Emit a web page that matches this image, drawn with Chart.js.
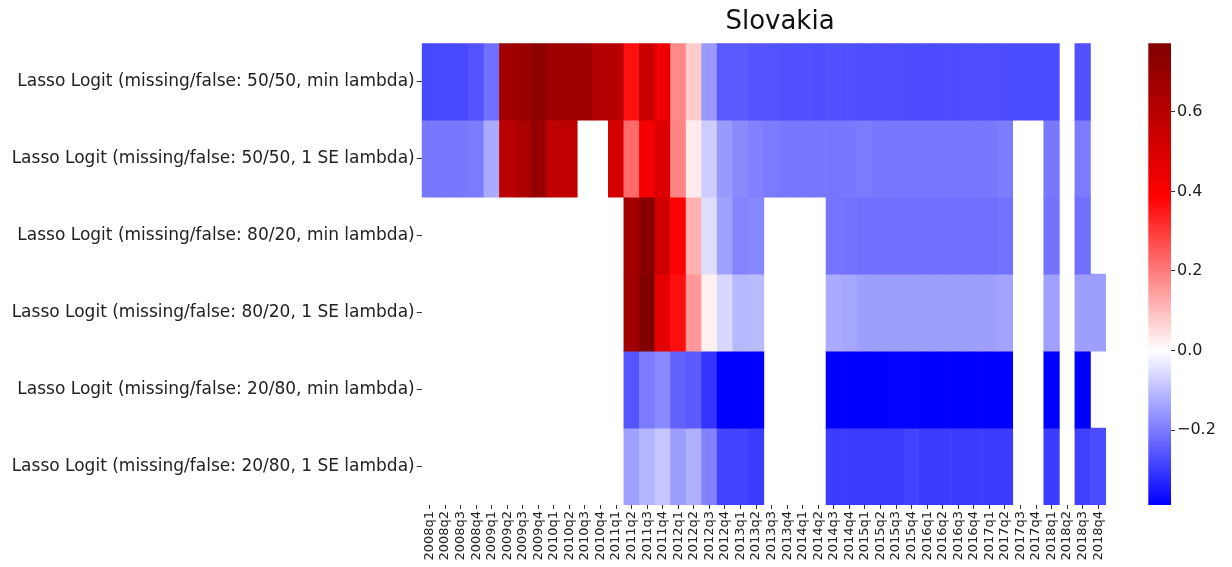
<!DOCTYPE html>
<html>
<head>
<meta charset="utf-8">
<title>Slovakia</title>
<script src="https://cdn.jsdelivr.net/npm/chart.js@4.4.1/dist/chart.umd.min.js"></script>
<style>
  body { margin: 0; background: #fff; }
  #wrap { position: relative; width: 1232px; height: 567px; }
  #wrap canvas { position: absolute; left: 0; top: 0; }
  #title {
    position: absolute; left: 780px; top: 5px; transform: translateX(-50%);
    font: 26px 'DejaVu Sans', sans-serif; color: #111; white-space: nowrap;
  }
</style>
</head>
<body>
<div id="wrap">
  <canvas id="heat" width="1232" height="567"></canvas>
  <canvas id="cbar" width="1232" height="567"></canvas>
  <div id="title">Slovakia</div>
</div>
<script>
// Quarter labels along the x axis
const quarters = [
  '2008q1', '2008q2', '2008q3', '2008q4', '2009q1', '2009q2', '2009q3', '2009q4',
  '2010q1', '2010q2', '2010q3', '2010q4', '2011q1', '2011q2', '2011q3', '2011q4',
  '2012q1', '2012q2', '2012q3', '2012q4', '2013q1', '2013q2', '2013q3', '2013q4',
  '2014q1', '2014q2', '2014q3', '2014q4', '2015q1', '2015q2', '2015q3', '2015q4',
  '2016q1', '2016q2', '2016q3', '2016q4', '2017q1', '2017q2', '2017q3', '2017q4',
  '2018q1', '2018q2', '2018q3', '2018q4'
];

const models = [
  'Lasso Logit (missing/false: 50/50, min lambda)',
  'Lasso Logit (missing/false: 50/50, 1 SE lambda)',
  'Lasso Logit (missing/false: 80/20, min lambda)',
  'Lasso Logit (missing/false: 80/20, 1 SE lambda)',
  'Lasso Logit (missing/false: 20/80, min lambda)',
  'Lasso Logit (missing/false: 20/80, 1 SE lambda)'
];

// One value per quarter, null where the model has no estimate
const lasso5050Min = [
  -0.277, -0.277, -0.275, -0.262, -0.216, 0.674, 0.692, 0.734,
  0.680, 0.680, 0.678, 0.613, 0.608, 0.362, 0.552, 0.437,
  0.180, 0.077, -0.154, -0.250, -0.250, -0.257, -0.262, -0.265,
  -0.265, -0.266, -0.264, -0.265, -0.266, -0.266, -0.268, -0.270,
  -0.270, -0.270, -0.270, -0.268, -0.268, -0.270, -0.272, -0.272,
  -0.272, null, -0.264, null
];
const lasso5050SE = [
  -0.204, -0.204, -0.204, -0.200, -0.129, 0.589, 0.637, 0.704,
  0.580, 0.580, null, null, 0.516, 0.225, 0.419, 0.489,
  0.185, 0.031, -0.077, -0.154, -0.177, -0.190, -0.200, -0.206,
  -0.206, -0.204, -0.208, -0.204, -0.200, -0.204, -0.206, -0.206,
  -0.206, -0.206, -0.206, -0.206, -0.204, -0.198, null, null,
  -0.204, null, -0.200, null
];
const lasso8020Min = [
  null, null, null, null, null, null, null, null,
  null, null, null, null, null, 0.674, 0.746, 0.528,
  0.386, 0.120, -0.051, -0.144, -0.185, -0.178, null, null,
  null, null, -0.209, -0.212, -0.216, -0.216, -0.216, -0.216,
  -0.216, -0.216, -0.216, -0.216, -0.216, -0.213, null, null,
  -0.213, null, -0.216, null
];
const lasso8020SE = [
  null, null, null, null, null, null, null, null,
  null, null, null, null, null, 0.674, 0.772, 0.474,
  0.365, 0.154, 0.023, -0.059, -0.107, -0.104, null, null,
  null, null, -0.129, -0.135, -0.147, -0.147, -0.147, -0.147,
  -0.147, -0.147, -0.147, -0.147, -0.147, -0.140, null, null,
  -0.144, null, -0.147, -0.147
];
const lasso2080Min = [
  null, null, null, null, null, null, null, null,
  null, null, null, null, null, -0.257, -0.200, -0.177,
  -0.238, -0.250, -0.309, -0.386, -0.386, -0.386, null, null,
  null, null, -0.386, -0.386, -0.386, -0.386, -0.381, -0.381,
  -0.386, -0.386, -0.386, -0.386, -0.386, -0.386, null, null,
  -0.388, null, -0.386, null
];
const lasso2080SE = [
  null, null, null, null, null, null, null, null,
  null, null, null, null, null, -0.144, -0.112, -0.088,
  -0.148, -0.120, -0.189, -0.286, -0.286, -0.295, null, null,
  null, null, -0.295, -0.295, -0.295, -0.295, -0.295, -0.285,
  -0.295, -0.295, -0.295, -0.295, -0.295, -0.295, null, null,
  -0.295, null, -0.290, -0.272
];

const rows = [lasso5050Min, lasso5050SE, lasso8020Min, lasso8020SE, lasso2080Min, lasso2080SE];

// Colour scale limits and colourbar ticks
const colorMin = -0.388;
const colorMax = 0.772;
const colorbarTicks = [-0.2, 0.0, 0.2, 0.4, 0.6];

Chart.defaults.font.family = "'DejaVu Sans', sans-serif";
Chart.defaults.color = '#222';

// seismic colormap, centred on zero over a symmetric range
const seismicStops = [
  [0.00, [0, 0, 77]],
  [0.25, [0, 0, 255]],
  [0.50, [255, 255, 255]],
  [0.75, [255, 0, 0]],
  [1.00, [128, 0, 0]]
];
const colorRange = Math.max(Math.abs(colorMin), Math.abs(colorMax));

function colorOf(v) {
  let t = (v + colorRange) / (2 * colorRange);
  t = Math.min(1, Math.max(0, t));
  for (let i = 1; i < seismicStops.length; i++) {
    const [t1, c1] = seismicStops[i];
    const [t0, c0] = seismicStops[i - 1];
    if (t <= t1) {
      const f = (t - t0) / (t1 - t0);
      const c = c0.map((a, k) => Math.round(a + (c1[k] - a) * f));
      return `rgb(${c[0]}, ${c[1]}, ${c[2]})`;
    }
  }
  return 'rgb(128, 0, 0)';
}

// each model row is a dataset of floating bars spanning [row, row + 1]
const datasets = rows.map((values, r) => ({
  label: models[r],
  data: values.map(v => (v === null ? null : [r, r + 1])),
  backgroundColor: values.map(v => (v === null ? 'rgba(0,0,0,0)' : colorOf(v))),
  borderWidth: 0,
  grouped: false,
  barPercentage: 1,
  categoryPercentage: 1
}));

new Chart(document.getElementById('heat'), {
  type: 'bar',
  data: { labels: quarters, datasets: datasets },
  options: {
    responsive: false,
    animation: false,
    devicePixelRatio: 1,
    layout: { padding: { top: 43.3, right: 126, bottom: 0, left: 0 } },
    plugins: { legend: { display: false }, tooltip: { enabled: false } },
    scales: {
      x: {
        type: 'category',
        offset: true,
        afterFit: (scale) => { scale.height = 62; },
        grid: { drawOnChartArea: false, offset: false, tickLength: 4, color: '#333', tickWidth: 1 },
        border: { display: false },
        ticks: {
          autoSkip: false,
          minRotation: 90,
          maxRotation: 90,
          padding: 2,
          font: { size: 13 },
          color: '#222'
        }
      },
      y: {
        type: 'linear',
        min: 0,
        max: 6,
        reverse: true,
        afterFit: (scale) => { scale.width = 421.7; },
        afterBuildTicks: (scale) => {
          scale.ticks = models.map((_, i) => ({ value: i + 0.5 }));
        },
        grid: { drawOnChartArea: false, tickLength: 5, color: '#333', tickWidth: 1 },
        border: { display: false },
        ticks: {
          padding: 2,
          font: { size: 17 },
          color: '#222',
          callback: (value, index) => models[index]
        }
      }
    }
  }
});

// colourbar: a single floating bar over the value range, filled with the colormap
new Chart(document.getElementById('cbar'), {
  type: 'bar',
  data: {
    labels: [''],
    datasets: [{
      data: [[colorMin, colorMax]],
      borderWidth: 0,
      barPercentage: 1,
      categoryPercentage: 1,
      backgroundColor: (ctx) => {
        const chart = ctx.chart;
        const area = chart.chartArea;
        if (!area) return null;
        const yScale = chart.scales.y;
        const grad = chart.ctx.createLinearGradient(0, yScale.getPixelForValue(colorMin), 0, yScale.getPixelForValue(colorMax));
        const n = 60;
        for (let i = 0; i <= n; i++) {
          const v = colorMin + (colorMax - colorMin) * i / n;
          grad.addColorStop(i / n, colorOf(v));
        }
        return grad;
      }
    }]
  },
  options: {
    responsive: false,
    animation: false,
    devicePixelRatio: 1,
    layout: { padding: { top: 43.3, right: 0, bottom: 62, left: 1148.3 } },
    plugins: { legend: { display: false }, tooltip: { enabled: false } },
    scales: {
      x: { display: false },
      y: {
        position: 'right',
        min: colorMin,
        max: colorMax,
        afterFit: (scale) => { scale.width = 1232 - 1171; },
        afterBuildTicks: (scale) => {
          scale.ticks = colorbarTicks.map(v => ({ value: v }));
        },
        grid: { drawOnChartArea: false, tickLength: 4, color: '#333', tickWidth: 1 },
        border: { display: false },
        ticks: {
          padding: 2,
          font: { size: 16 },
          color: '#222',
          callback: (value) => (value < 0 ? '\u2212' + Math.abs(value).toFixed(1) : value.toFixed(1))
        }
      }
    }
  }
});
</script>
</body>
</html>
